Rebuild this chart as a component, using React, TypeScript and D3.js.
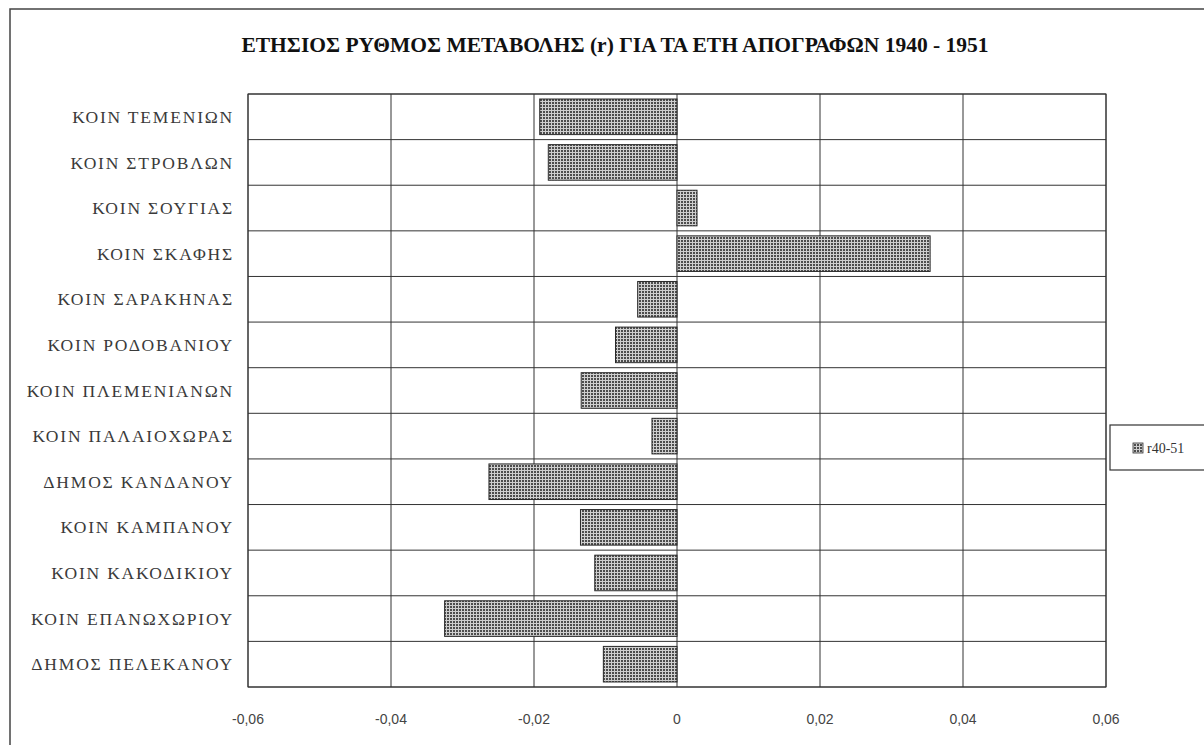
import React from "react";
import * as d3 from "d3";

const categories = [
  "ΚΟΙΝ ΤΕΜΕΝΙΩΝ",
  "ΚΟΙΝ ΣΤΡΟΒΛΩΝ",
  "ΚΟΙΝ ΣΟΥΓΙΑΣ",
  "ΚΟΙΝ ΣΚΑΦΗΣ",
  "ΚΟΙΝ ΣΑΡΑΚΗΝΑΣ",
  "ΚΟΙΝ ΡΟΔΟΒΑΝΙΟΥ",
  "ΚΟΙΝ ΠΛΕΜΕΝΙΑΝΩΝ",
  "ΚΟΙΝ ΠΑΛΑΙΟΧΩΡΑΣ",
  "ΔΗΜΟΣ ΚΑΝΔΑΝΟΥ",
  "ΚΟΙΝ ΚΑΜΠΑΝΟΥ",
  "ΚΟΙΝ ΚΑΚΟΔΙΚΙΟΥ",
  "ΚΟΙΝ ΕΠΑΝΩΧΩΡΙΟΥ",
  "ΔΗΜΟΣ ΠΕΛΕΚΑΝΟΥ",
];

const r4051 = [
  -0.0192, -0.0180, 0.0028, 0.0354, -0.0055, -0.0086, -0.0134, -0.0035,
  -0.0263, -0.0135, -0.0115, -0.0325, -0.0103,
];

const xTicks = [-0.06, -0.04, -0.02, 0, 0.02, 0.04, 0.06];
const seriesName = "r40-51";
const title = "ΕΤΗΣΙΟΣ ΡΥΘΜΟΣ ΜΕΤΑΒΟΛΗΣ (r) ΓΙΑ ΤΑ ΕΤΗ ΑΠΟΓΡΑΦΩΝ 1940 - 1951";

export default function App() {
  const W = 1204;
  const H = 745;
  const left = 248;
  const right = 1106;
  const top = 94;
  const bottom = 687;

  const x = d3.scaleLinear().domain([-0.06, 0.06]).range([left, right]);
  const y = d3
    .scaleBand<string>()
    .domain(categories)
    .range([top, bottom])
    .paddingInner(0.22)
    .paddingOuter(0.11);
  const step = y.step();
  const fmt = (v: number) => (v === 0 ? "0" : d3.format(".2f")(v).replace(".", ",").replace("−", "-"));

  const serif = "'Liberation Serif', 'DejaVu Serif', serif";

  return (
    <svg
      width={W}
      height={H}
      style={{ position: "absolute", left: 0, top: 0, background: "#fff" }}
    >
      <defs>
        <pattern id="dots" width={3} height={3} patternUnits="userSpaceOnUse">
          <rect width={3} height={3} fill="#cfcfcf" />
          <rect x={0} y={0} width={2} height={2} fill="#4d4d4d" />
        </pattern>
      </defs>
      <rect x={0} y={0} width={W} height={H} fill="#fff" />
      {/* outer frame */}
      <rect x={10} y={9} width={1220} height={780} fill="none" stroke="#444" strokeWidth={1.5} />

      <text
        x={615}
        y={52}
        textAnchor="middle"
        fontFamily={serif}
        fontWeight="bold"
        fontSize={21.5}
        fill="#111"
      >
        {title}
      </text>

      {/* vertical gridlines */}
      {xTicks.map((t) => (
        <line key={"v" + t} x1={x(t)} x2={x(t)} y1={top} y2={bottom} stroke="#333" strokeWidth={1} />
      ))}
      {/* horizontal gridlines between categories */}
      {d3.range(categories.length + 1).map((i) => (
        <line
          key={"h" + i}
          x1={left}
          x2={right}
          y1={top + i * step}
          y2={top + i * step}
          stroke="#333"
          strokeWidth={1}
        />
      ))}
      <rect x={left} y={top} width={right - left} height={bottom - top} fill="none" stroke="#333" strokeWidth={1} />

      {/* bars */}
      {categories.map((c, i) => {
        const v = r4051[i];
        const x0 = x(Math.min(0, v));
        const x1 = x(Math.max(0, v));
        return (
          <rect
            key={c}
            x={x0}
            y={y(c)!}
            width={x1 - x0}
            height={y.bandwidth()}
            fill="url(#dots)"
            stroke="#2a2a2a"
            strokeWidth={1}
          />
        );
      })}

      {/* category labels */}
      {categories.map((c) => (
        <text
          key={"l" + c}
          x={234}
          y={y(c)! + y.bandwidth() / 2}
          dy="0.35em"
          textAnchor="end"
          fontFamily={serif}
          fontSize={17.5}
          letterSpacing={1.8}
          fill="#3a3a3a"
        >
          {c}
        </text>
      ))}

      {/* x tick labels */}
      {xTicks.map((t) => (
        <text
          key={"t" + t}
          x={x(t)}
          y={724}
          textAnchor="middle"
          fontFamily="'Liberation Sans', Arial, sans-serif"
          fontSize={14}
          fill="#444"
        >
          {fmt(t)}
        </text>
      ))}

      {/* legend */}
      <rect x={1110} y={425} width={100} height={45} fill="#fff" stroke="#333" strokeWidth={1.2} />
      <rect x={1133} y={443} width={10} height={10} fill="url(#dots)" stroke="#333" strokeWidth={0.8} />
      <text x={1147} y={453} fontFamily={serif} fontSize={14} fill="#333">
        {seriesName}
      </text>
    </svg>
  );
}
